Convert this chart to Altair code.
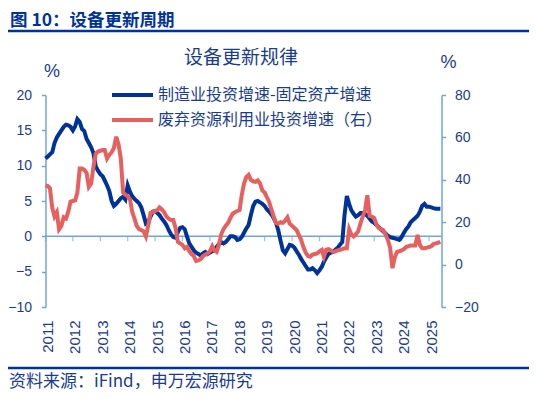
import altair as alt
import pandas as pd

# ---- data ----
start_month = "2011-01-01"
# 制造业投资增速-固定资产增速 (left axis, %)
mfg_minus_fai = [
    11.0, 11.3, 11.6, 11.9, 13.2, 14.0, 14.5, 15.0, 15.5, 15.8,
    15.7, 15.5, 15.0, 15.6, 16.6, 16.2, 15.2, 14.9, 13.8, 13.2,
    12.6, 11.8, 9.9, 9.3, 8.8, 8.5, 7.9, 7.2, 6.4, 5.0,
    4.3, 4.6, 5.0, 5.4, 5.6, 5.2, 7.2, 6.3, 5.7, 5.3,
    5.0, 4.7, 4.1, 3.0, 1.8, 2.0, 2.8, 3.5, 3.6, 3.3,
    3.0, 2.5, 2.1, 1.6, 0.9, 0.3, -0.1, -0.2, 0.6, 1.2,
    1.3, 1.0, 0.0, -1.0, -1.5, -2.0, -2.3, -2.5, -2.7, -2.4,
    -2.2, -2.5, -2.3, -2.1, -2.0, -1.5, -1.1, -0.8, -1.0, -0.8,
    -0.4, 0.0, 0.0, -0.1, -0.5, -0.4, -0.1, 0.5, 1.1, 1.6,
    3.0, 4.3, 4.9, 5.0, 4.8, 4.6, 4.3, 3.8, 3.5, 3.1,
    2.6, 1.9, 0.9, -0.6, -2.0, -2.4, -1.8, -1.2, -1.3, -1.6,
    -2.1, -2.6, -3.2, -3.7, -4.2, -4.7, -4.7, -4.5, -4.8, -5.2,
    -4.8, -4.3, -3.6, -3.0, -2.5, -2.3, -2.2, -1.9, -1.6, -1.2,
    -0.8, 3.0, 5.7, 4.6, 3.7, 3.2, 2.8, 3.0, 3.3, 3.3,
    3.2, 2.9, 2.5, 2.1, 1.9, 1.6, 1.3, 1.0, 0.7, 0.4,
    0.1, -0.1, -0.2, -0.3, -0.4, -0.5, -0.1, 0.5, 1.0, 1.4,
    2.0, 2.3, 2.6, 2.9, 3.5, 4.3, 4.6, 4.2, 4.2, 4.1,
    4.0, 3.9, 3.9, 3.9,
]
# 废弃资源利用业投资增速 (right axis, %)
waste_res = [
    37.3, 37.0, 36.0, 26.7, 22.7, 24.7, 16.7, 18.3, 22.3, 21.7,
    25.0, 29.7, 30.0, 30.3, 34.0, 45.3, 45.3, 44.7, 43.3, 36.7,
    38.3, 46.0, 52.3, 53.3, 53.7, 54.0, 54.0, 50.0, 51.7, 53.0,
    55.0, 60.3, 56.7, 50.0, 34.0, 33.0, 32.3, 30.7, 25.0, 21.7,
    18.3, 16.7, 16.3, 15.7, 13.3, 18.3, 24.3, 24.7, 25.3, 25.7,
    27.0, 26.0, 24.7, 22.7, 21.7, 21.0, 21.0, 17.3, 10.7, 10.0,
    9.3, 7.7, 8.3, 6.3, 5.0, 4.0, 1.7, 2.0, 2.7, 4.0,
    4.7, 5.3, 6.3, 8.7, 6.7, 6.0, 9.3, 14.3, 16.7, 18.3,
    19.7, 22.0, 24.0, 24.7, 25.3, 25.7, 32.7, 38.3, 41.3, 42.3,
    40.0, 39.3, 39.0, 39.7, 38.3, 35.0, 34.0, 31.7, 29.7, 26.0,
    22.7, 19.7, 19.3, 20.0, 19.7, 20.7, 22.3, 19.3, 18.3, 17.3,
    16.3, 14.0, 11.7, 8.3, 5.7, 4.0, 3.7, 4.7, 5.0, 5.3,
    6.3, 7.0, 3.7, 7.0, 7.3, 6.7, 6.0, 6.3, 6.7, 7.0,
    7.3, 7.7, 7.7, 16.7, 14.3, 13.3, 14.3, 15.7, 19.3, 22.7,
    25.7, 32.7, 23.0, 22.7, 22.0, 18.7, 17.3, 16.7, 16.3, 14.3,
    11.7, 8.0, -1.7, 3.3, 6.0, 6.3, 6.7, 7.3, 8.3, 8.7,
    9.0, 9.0, 9.0, 14.0, 9.3, 7.7, 7.7, 8.0, 8.3, 8.7,
    9.7, 10.0, 10.3, 10.7,
]
years = list(range(2011, 2026))
left_ticks = [-10, -5, 0, 5, 10, 15, 20]
right_ticks = [-20, 0, 20, 40, 60, 80]

title_text = "图 10：设备更新周期"
chart_title = "设备更新规律"
legend_blue = "制造业投资增速-固定资产增速"
legend_red = "废弃资源利用业投资增速（右）"
source_text = "资料来源：iFind，申万宏源研究"

# ---- styles ----
NAVY = "#003399"
TEXT = "#1A3C8F"
RED = "#E8605E"
AXIS = "#6FA6DA"
CJK = "Noto Sans CJK SC"
NUM = "Liberation Sans"

dates = pd.date_range(start_month, periods=len(mfg_minus_fai), freq="MS")
df = pd.DataFrame({"date": dates, "blue": mfg_minus_fai, "red": waste_res})
tick_df = pd.DataFrame({
    "date": pd.to_datetime([f"{y}-01-01" for y in years]),
    "blue": [0] * len(years),
})

x_dom = ["2011-01-01T00:00:00", "2025-06-16T00:00:00"]
xscale = alt.Scale(domain=x_dom)

x_axis = alt.Axis(
    values=[alt.DateTime(year=y, month=1, date=1) for y in years],
    format="%Y", labelAngle=270, domain=False, ticks=False, tickSize=0,
    labelPadding=13, labelFlush=False, labelOverlap=False, labelColor=TEXT,
    labelFontSize=15, labelFont=NUM, labelOffset=2, grid=False, title=None,
)
X = alt.X("date:T", scale=xscale, axis=x_axis, title=None)

left_scale = alt.Scale(domain=[-10, 20], nice=False, zero=False)
left_axis = alt.Axis(
    values=left_ticks, orient="left", grid=False, title=None,
    domainColor=AXIS, domainWidth=1.5, tickColor=AXIS, tickWidth=1.5,
    tickSize=4, labelColor=TEXT, labelFontSize=14, labelFont=NUM,
    labelPadding=10, labelOverlap=False,
)
YL = alt.Y("blue:Q", scale=left_scale, axis=left_axis, title=None)

base = alt.Chart(df)

blue_line = base.mark_line(color=NAVY, strokeWidth=4).encode(x=X, y=YL)

zero_rule = alt.Chart(pd.DataFrame({"blue": [0]})).mark_rule(
    color=AXIS, strokeWidth=1.5
).encode(y=YL)

year_ticks = alt.Chart(tick_df).mark_tick(
    orient="vertical", size=5, thickness=1.2, yOffset=2.5, color=AXIS
).encode(x=X, y=YL)


def label(text, x, y, size, weight="normal", align="left", color=TEXT, font=CJK):
    return alt.Chart(pd.DataFrame({"t": [text]})).mark_text(
        align=align, baseline="middle", fontSize=size, fontWeight=weight,
        font=font, color=color,
    ).encode(text="t:N", x=alt.value(x), y=alt.value(y))


def hrule(x1, x2, y, color, width):
    return alt.Chart(pd.DataFrame({"k": [0]})).mark_rule(
        color=color, strokeWidth=width
    ).encode(x=alt.value(x1), x2=alt.value(x2), y=alt.value(y))


annotations = [
    label(title_text, -35.5, -74, 17.5, weight="bold", color=NAVY),
    hrule(-37.5, 483.5, -64, NAVY, 2.5),
    label(chart_title, 195.5, -37, 19, align="center"),
    label("%", 6.5, -23, 18, align="center", font=NUM),
    label("%", 403, -32, 18, align="center", font=NUM),
    hrule(66.5, 107.5, 0, NAVY, 4),
    hrule(66.5, 107.5, 25, RED, 4),
    label(legend_blue, 112.5, 0, 16),
    label(legend_red, 112.5, 25, 16),
    hrule(-37.5, 483.5, 273, NAVY, 2.5),
    label(source_text, -36.5, 287, 17),
]

left_group = alt.layer(zero_rule, year_ticks, blue_line, *annotations)

red_line = base.mark_line(color=RED, strokeWidth=4).encode(
    x=X,
    y=alt.Y(
        "red:Q",
        scale=alt.Scale(domain=[-20, 80], nice=False, zero=False),
        axis=alt.Axis(
            values=right_ticks, orient="right", grid=False, title=None,
            domainColor=AXIS, domainWidth=1.5, tickColor=AXIS, tickWidth=1.5,
            tickSize=4, labelColor=TEXT, labelFontSize=14, labelFont=NUM,
            labelPadding=9, labelOverlap=False,
        ),
    ),
)

chart = alt.layer(left_group, red_line).resolve_scale(y="independent").properties(
    width=396,
    height=212,
    padding={"left": 37.5, "top": 87, "right": 87.5, "bottom": 84},
    autosize=alt.AutoSizeParams(type="none"),
    background="white",
).configure_view(stroke=None)

chart.save("out.html", embed_options={"renderer": "svg", "actions": False})
